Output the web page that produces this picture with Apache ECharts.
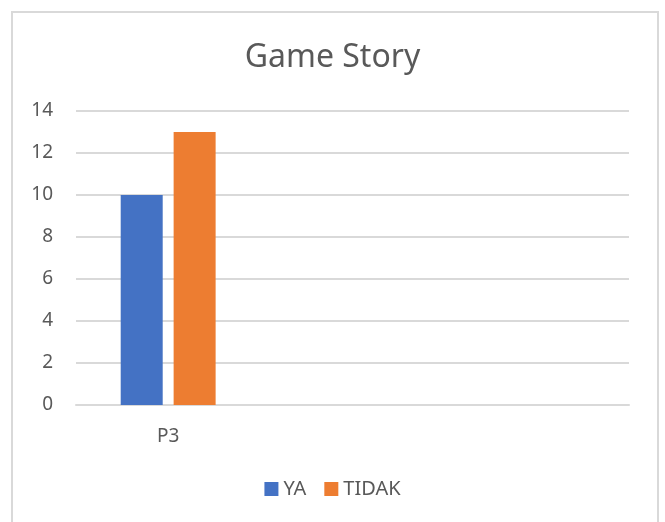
<!DOCTYPE html>
<html>
<head>
<meta charset="utf-8">
<script src="https://cdn.jsdelivr.net/npm/echarts@6/dist/echarts.min.js"></script>
<style>
  html, body { margin: 0; padding: 0; background: #fff; }
  #chart { width: 665px; height: 522px; }
</style>
</head>
<body>
<div id="chart"></div>
<script>
// data
const categories = ['P3', '', '']
const yaValues = [10, null, null]
const tidakValues = [13, null, null]
const seriesNames = ['YA', 'TIDAK']

const chart = echarts.init(document.getElementById('chart'))

const textColor = '#595959'
const lineColor = '#d9d9d9'
const font = 'Noto Sans'

const option = {
  backgroundColor: '#fff',
  animation: false,
  // chart frame
  graphic: [{
    type: 'rect',
    shape: { x: 12, y: 12, width: 646, height: 540 },
    style: { fill: 'none', stroke: lineColor, lineWidth: 2 },
    silent: true
  }],
  title: {
    text: 'Game Story',
    left: 'center',
    top: 37,
    textStyle: { color: textColor, fontSize: 32, fontWeight: 'normal', fontFamily: font }
  },
  legend: {
    data: seriesNames,
    bottom: 18,
    left: 'center',
    icon: 'rect',
    itemWidth: 14,
    itemHeight: 14,
    itemGap: 18,
    textStyle: { color: textColor, fontSize: 20, fontFamily: font, padding: [0, 0, 0, 0] }
  },
  grid: { left: 76, right: 36, top: 111, bottom: 117, containLabel: false },
  xAxis: {
    type: 'category',
    data: categories,
    axisLine: { lineStyle: { color: lineColor, width: 2 } },
    axisTick: { show: false },
    axisLabel: { color: textColor, fontSize: 19, fontFamily: font, margin: 22 }
  },
  yAxis: {
    type: 'value',
    min: 0,
    max: 14,
    interval: 2,
    axisLine: { show: false },
    axisTick: { show: false },
    axisLabel: { color: textColor, fontSize: 19, fontFamily: font, margin: 23 },
    splitLine: { lineStyle: { color: lineColor, width: 2 } }
  },
  series: [
    {
      name: seriesNames[0],
      type: 'bar',
      data: yaValues,
      barWidth: 42,
      barGap: '26%',
      itemStyle: { color: '#4472c4' }
    },
    {
      name: seriesNames[1],
      type: 'bar',
      data: tidakValues,
      barWidth: 42,
      barGap: '26%',
      itemStyle: { color: '#ed7d31' }
    }
  ]
}

chart.setOption(option)
</script>
</body>
</html>
